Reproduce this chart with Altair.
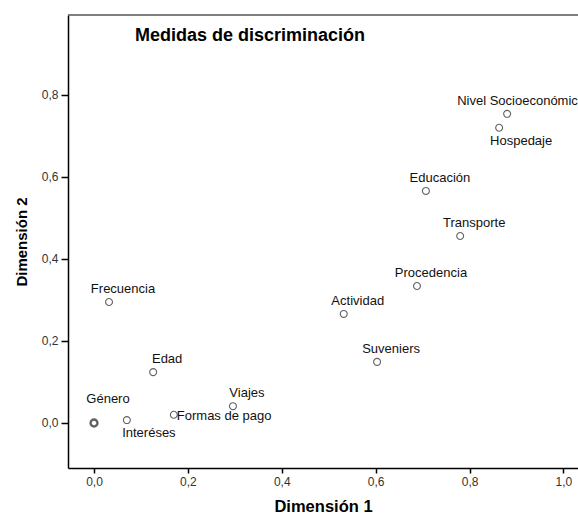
import json
import altair as alt
import pandas as pd

# ---- data ----
labels = ["Género", "Interéses", "Formas de pago", "Viajes", "Edad", "Frecuencia",
          "Actividad", "Suveniers", "Procedencia", "Educación", "Transporte",
          "Hospedaje", "Nivel Socioeconómico"]
dim1 = [0.000, 0.070, 0.170, 0.296, 0.126, 0.032, 0.532, 0.603, 0.688, 0.707, 0.780, 0.863, 0.880]
dim2 = [0.000, 0.007, 0.020, 0.041, 0.124, 0.295, 0.266, 0.149, 0.334, 0.566, 0.456, 0.720, 0.754]
x_ticks = [0.0, 0.2, 0.4, 0.6, 0.8, 1.0]
y_ticks = [0.0, 0.2, 0.4, 0.6, 0.8]
title_text = "Medidas de discriminación"
x_title = "Dimensión 1"
y_title = "Dimensión 2"

df = pd.DataFrame({"label": labels, "d1": dim1, "d2": dim2})

# ---- layout / style ----
FONT = "Liberation Sans"
W, H = 510, 453
X_DOMAIN = [-0.0554, 1.031]
Y_DOMAIN = [-0.1098, 0.995]
BELOW = ["Interéses", "Hospedaje"]
RIGHT = ["Formas de pago"]
HIGH = ["Género"]
fmt = "replace(format(datum.value, '.1f'), '.', ',')"

x_enc = alt.X(
    "d1:Q",
    scale=alt.Scale(domain=X_DOMAIN, nice=False, zero=False),
    axis=alt.Axis(values=x_ticks, labelExpr=fmt, title=x_title, grid=False,
                  domainColor="black", domainWidth=1.5, tickColor="black",
                  tickWidth=1.5, tickSize=5, labelFont=FONT, labelFontSize=12,
                  labelColor="#333333", labelPadding=3, labelFlush=False,
                  titleFont=FONT, titleFontSize=16.5, titleFontWeight="bold",
                  titleColor="black", titlePadding=11),
)
y_enc = alt.Y(
    "d2:Q",
    scale=alt.Scale(domain=Y_DOMAIN, nice=False, zero=False),
    axis=alt.Axis(values=y_ticks, labelExpr=fmt, title=y_title, grid=False,
                  domainColor="black", domainWidth=1.5, tickColor="black",
                  tickWidth=1.5, tickSize=7, labelFont=FONT, labelFontSize=12,
                  labelColor="#333333", labelPadding=3, labelFlush=False,
                  titleFont=FONT, titleFontSize=15, titleFontWeight="bold",
                  titleColor="black", titlePadding=12),
)

base = alt.Chart(df)

points = base.mark_point(shape="circle", filled=False, size=48, color="#222222").encode(
    x=x_enc, y=y_enc,
    strokeWidth=alt.condition(alt.datum.label == "Género", alt.value(2.4), alt.value(1.1)),
)


def in_list(names):
    return f"indexof({json.dumps(names, ensure_ascii=False)}, datum.label) >= 0"


def text_layer(filter_expr, **kw):
    return base.transform_filter(filter_expr).mark_text(
        baseline="alphabetic", fontSize=13, font=FONT, color="#111111", **kw
    ).encode(x="d1:Q", y="d2:Q", text="label:N")


excluded = json.dumps(BELOW + RIGHT + HIGH, ensure_ascii=False)
above = text_layer(f"indexof({excluded}, datum.label) < 0", align="center", dx=14, dy=-9)
high = text_layer(in_list(HIGH), align="center", dx=14, dy=-20)
below = text_layer(in_list(BELOW), align="center", dx=22, dy=17)
right = text_layer(in_list(RIGHT), align="left", dx=3, dy=5)

one = pd.DataFrame({"t": [title_text]})
title = alt.Chart(one).mark_text(
    align="left", baseline="alphabetic", fontSize=18, fontWeight="bold", font=FONT, color="black"
).encode(x=alt.value(67), y=alt.value(26), text="t:N")

top_border = alt.Chart(one).mark_rule(color="#555555", strokeWidth=1.5).encode(
    x=alt.value(0), x2=alt.value(W), y=alt.value(0)
)

chart = alt.layer(top_border, points, above, high, below, right, title).properties(
    width=W, height=H,
    autosize=alt.AutoSizeParams(type="none"),
    padding={"left": 68, "top": 15, "right": 0, "bottom": 45},
    background="white",
).configure_view(stroke="transparent")

chart.save("out.html", embed_options={"renderer": "svg", "actions": False})
